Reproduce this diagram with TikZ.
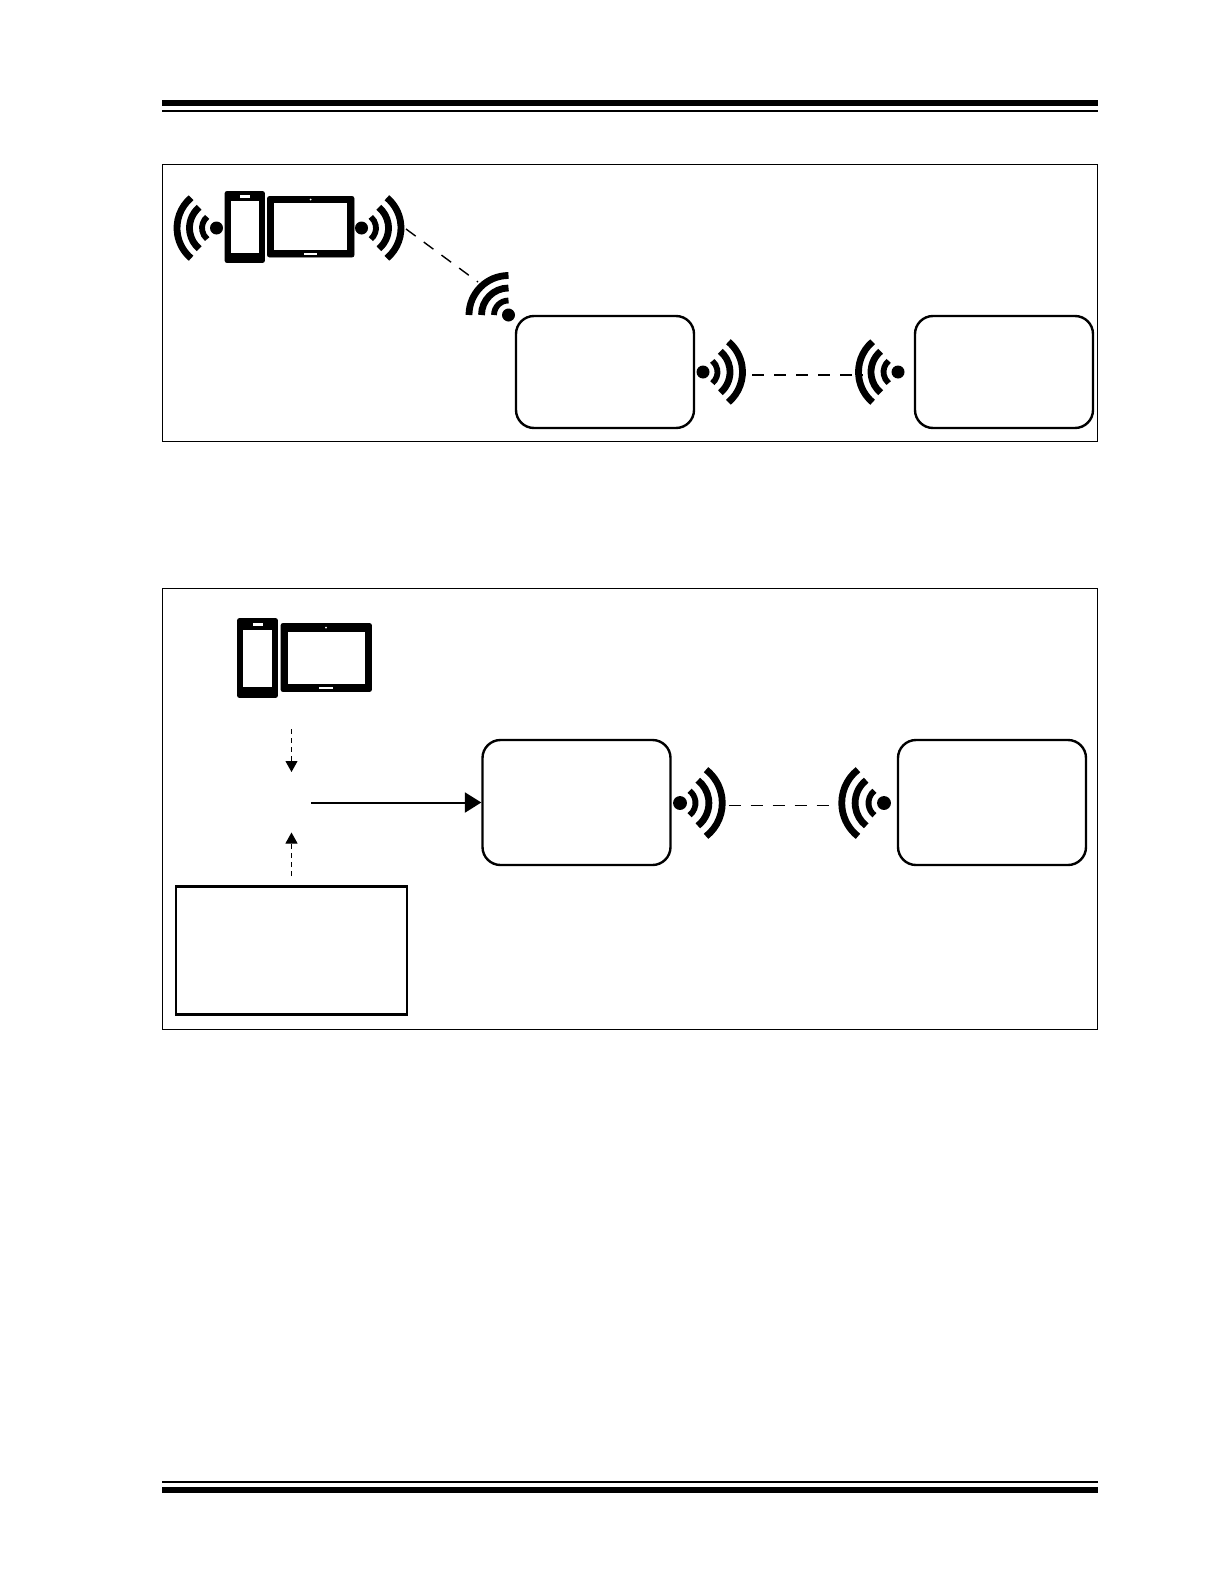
\documentclass[tikz,border=0pt]{standalone}
\usetikzlibrary{arrows.meta}

\tikzset{
	rule/.style={line width=#1},
	frame/.style={draw,line width=.6pt},
	unit/.style={draw,line width=1.2pt,rounded corners=9pt,inner sep=0pt},
	link/.style={line width=.7pt,dash pattern=on 6pt off 5pt},
	feed/.style={line width=.5pt,dash pattern=on 2.5pt off 2pt,-{Triangle[length=5.5pt,width=6pt]}},
	body/.style={fill=black,rounded corners=1pt},
	glass/.style={fill=white},
	pics/wifi/.style={code={
		\fill (0,0) circle (6.5);
		\foreach \r/\w in {14.5/2.9pt,27/3.4pt,39.5/3.4pt}
			\draw [line width=\w] (-#1:\r) arc [start angle=-#1,end angle=#1,radius=\r];
	}},
	pics/wifi/.default=50
}

\begin{document}
\begin{tikzpicture}[x=.5pt,y=.5pt]
	\useasboundingbox (0,0) rectangle (1224,-1584);
	% page rules
	\draw [rule=3pt] (162,-103) -- (1098,-103);
	\draw [rule=1pt] (162,-111) -- (1098,-111);
	\draw [rule=1pt] (162,-1482) -- (1098,-1482);
	\draw [rule=3pt] (162,-1490) -- (1098,-1490);

	% first panel
	\draw [frame] (162.5,-164.5) rectangle (1097.5,-441.5);
	\node [unit,minimum width=89pt,minimum height=56pt] (hostA) at (605,-372) {};
	\node [unit,minimum width=89pt,minimum height=56pt] (peerA) at (1004,-372) {};
	\draw [body] (225,-191.5) rectangle (264.5,-262.5);
	\draw [glass] (230,-200.5) rectangle (259.5,-253.5);
	\fill [white] (240,-194.5) rectangle (250,-197.5);
	\draw [body] (267.5,-196.5) rectangle (354,-257);
	\draw [glass] (273.5,-202.5) rectangle (347.5,-250.5);
	\fill [white] (310.7,-199.5) circle (1);
	\fill [white] (304,-253) rectangle (317,-255);
	\pic [rotate=180] at (216.5,-228) {wifi};
	\pic at (361.5,-228) {wifi};
	\pic [rotate=135] at (508.5,-315) {wifi=45};
	\pic at (703,-372) {wifi};
	\pic [rotate=180] at (898,-372) {wifi};
	\coordinate (phoneOut) at (406,-229);
	\coordinate (hostIn) at (478,-282);
	\coordinate (hostOut) at (752,-375);
	\coordinate (peerIn) at (863,-375);
	\draw [link] (phoneOut) -- (hostIn);
	\draw [link] (hostOut) -- (peerIn);

	% second panel
	\draw [frame] (162.5,-588.5) rectangle (1097.5,-1029.5);
	\node [unit,minimum width=94pt,minimum height=62.5pt] (hostB) at (576.5,-802.5) {};
	\node [unit,minimum width=94pt,minimum height=62.5pt] (peerB) at (992,-802.5) {};
	\node [draw,line width=1.2pt,minimum width=115.5pt,minimum height=64pt,inner sep=0pt] (tool) at (291.5,-950.5) {};
	\draw [body] (237.5,-618.5) rectangle (277.5,-697.5);
	\draw [glass] (242,-629) rectangle (272.5,-687);
	\fill [white] (252.5,-622.5) rectangle (262.5,-625.5);
	\draw [body] (281,-623.5) rectangle (371.5,-691.5);
	\draw [glass] (287.5,-631.5) rectangle (365,-684.5);
	\fill [white] (326,-627.5) circle (1);
	\fill [white] (319,-686.7) rectangle (333,-688.7);
	\pic [scale=1.07] at (680,-803) {wifi=52};
	\pic [rotate=180,scale=1.07] at (884,-803) {wifi=52};
	\coordinate (padTop) at (291.5,-729);
	\coordinate (padIn) at (291.5,-772);
	\coordinate (toolOut) at (291.5,-876);
	\coordinate (toolIn) at (291.5,-832.5);
	\coordinate (merge) at (311,-802.5);
	\coordinate (hostBOut) at (728.5,-805);
	\coordinate (peerBIn) at (831,-805);
	\draw [feed] (padTop) -- (padIn);
	\draw [feed] (toolOut) -- (toolIn);
	\draw [line width=1pt,-{Triangle[length=8.2pt,width=10pt]}] (merge) -- (hostB.west);
	\draw [link,line width=.5pt] (hostBOut) -- (peerBIn);
\end{tikzpicture}
\end{document}
